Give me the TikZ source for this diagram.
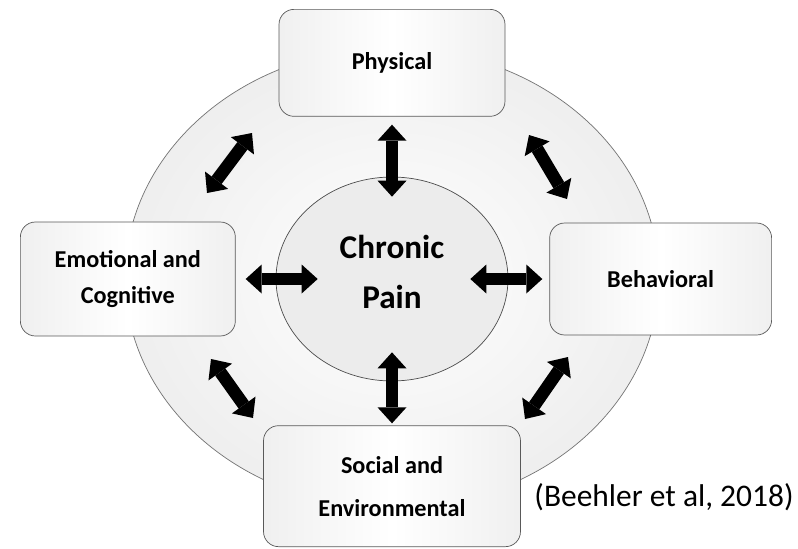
\documentclass[tikz,border=0pt]{standalone}
\usepackage{fontspec}
\setmainfont{Carlito}
\usetikzlibrary{arrows.meta, positioning, shapes}
\tikzset {
  ring/.style = {draw=black!55, ellipse, inner color=white, outer color=gray!13, minimum width=10.68cm, minimum height=9.2cm, inner sep=0pt},
  hub/.style = {draw=black!70, ellipse, fill=gray!15, minimum width=4.64cm, minimum height=4.08cm, inner sep=0pt, text depth=8pt, align=center, font=\bfseries\fontsize{18.9}{28.3}\selectfont},
  box/.style = {draw=black!65, rectangle, rounded corners=0.3cm, left color=gray!12, right color=gray!12, middle color=white, align=center, inner sep=0pt, font=\bfseries\fontsize{13.8}{20.4}\selectfont},
  link/.style = {{Triangle[width=0.58cm, length=0.32cm, line width=0pt]}-{Triangle[width=0.58cm, length=0.32cm, line width=0pt]}, line width=0.25cm, color=black},
  source/.style = {font=\fontsize{17.9}{21}\selectfont}
}

\begin{document}
\begin{tikzpicture}[x=0.02cm, y=-0.02cm]
    \useasboundingbox (0,0) rectangle (798,548);

    \node[ring, name=ring] (ring) at (392,278) {};
    \node[hub, name=pain] (pain) at (392,279) {Chronic\\Pain};
    \node[box, name=phys, minimum width=4.52cm, minimum height=2.14cm, above=1.2cm of pain] (phys) {Physical};
    \node[box, name=emo, minimum width=4.3cm, minimum height=2.28cm, left=0.8cm of pain] (emo) {Emotional and\\Cognitive};
    \node[box, name=behav, minimum width=4.44cm, minimum height=2.24cm, right=0.82cm of pain] (behav) {Behavioral};
    \node[box, name=soc, minimum width=5.14cm, minimum height=2.42cm, below=0.88cm of pain] (soc) {Social and\\[4pt]Environmental};
    \node[source, name=src] (src) at (664,497) {(Beehler et al, 2018)};

    % ends of the arrows round the ring
    \coordinate (nw-a) at (207,193);
    \coordinate (nw-b) at (252,133);
    \coordinate (ne-a) at (529,135);
    \coordinate (ne-b) at (567,199);
    \coordinate (se-a) at (568,357);
    \coordinate (se-b) at (525,419);
    \coordinate (sw-a) at (211,359);
    \coordinate (sw-b) at (253,418);

    \draw[link, shorten <=0.16cm, shorten >=-0.4cm] (phys.south) -- (pain.north);
    \draw[link, shorten <=-0.58cm, shorten >=0.04cm] (pain.south) -- (soc.north);
    \draw[link, shorten <=0.2cm, shorten >=-0.84cm] (emo.east) -- (pain.west);
    \draw[link, shorten <=-0.76cm, shorten >=0.14cm] (pain.east) -- (behav.west);
    \draw[link] (nw-a) -- (nw-b);
    \draw[link] (ne-a) -- (ne-b);
    \draw[link] (se-a) -- (se-b);
    \draw[link] (sw-a) -- (sw-b);

\end{tikzpicture}
\end{document}
